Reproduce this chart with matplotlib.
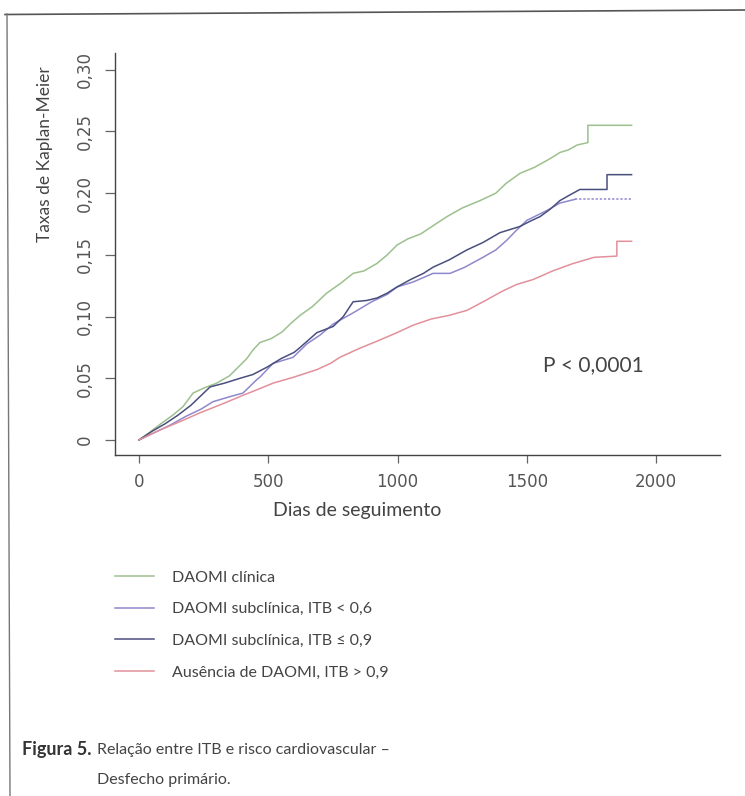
import matplotlib
matplotlib.use("Agg")
import matplotlib.pyplot as plt
from matplotlib.lines import Line2D

# Kaplan-Meier curves (days, cumulative rate)
clin_days = [0, 40, 90, 130, 170, 209, 250, 300, 350, 417, 441, 468, 510, 553, 590, 623, 670, 726, 780, 828,
             870, 920, 960, 998, 1040, 1090, 1140, 1191, 1250, 1319, 1380, 1420, 1473, 1530, 1590, 1628,
             1660, 1694, 1736, 1736, 1905]
clin_rate = [0, 0.006, 0.014, 0.020, 0.027, 0.038, 0.042, 0.046, 0.052, 0.066, 0.073, 0.079, 0.082, 0.0875,
             0.095, 0.101, 0.108, 0.119, 0.127, 0.135, 0.137, 0.143, 0.150, 0.158, 0.163, 0.167, 0.174,
             0.181, 0.188, 0.194, 0.200, 0.208, 0.216, 0.221, 0.228, 0.233, 0.235, 0.239, 0.241, 0.255, 0.255]

sub09_days = [0, 50, 100, 150, 200, 240, 275, 330, 391, 440, 495, 550, 600, 623, 688, 751, 790, 828, 880,
              920, 960, 998, 1050, 1100, 1137, 1200, 1268, 1330, 1396, 1473, 1510, 1551, 1590, 1628, 1670,
              1705, 1810, 1810, 1905]
sub09_rate = [0, 0.007, 0.013, 0.020, 0.028, 0.036, 0.043, 0.046, 0.050, 0.053, 0.059, 0.066, 0.071, 0.075,
              0.087, 0.092, 0.100, 0.112, 0.113, 0.115, 0.119, 0.124, 0.130, 0.135, 0.140, 0.146, 0.154,
              0.160, 0.168, 0.173, 0.177, 0.181, 0.187, 0.194, 0.199, 0.203, 0.203, 0.215, 0.215]

sub06_days = [0, 60, 120, 180, 240, 286, 350, 402, 456, 468, 518, 596, 650, 700, 751, 828, 900, 960, 998,
              1060, 1137, 1203, 1260, 1330, 1380, 1423, 1460, 1500, 1578, 1628, 1686, 1905]
sub06_rate = [0, 0.006, 0.012, 0.019, 0.025, 0.031, 0.035, 0.038, 0.049, 0.051, 0.062, 0.067, 0.078, 0.085,
              0.094, 0.103, 0.112, 0.118, 0.124, 0.128, 0.135, 0.135, 0.140, 0.148, 0.154, 0.162, 0.170,
              0.178, 0.186, 0.192, 0.195, 0.195]

norm_days = [0, 80, 160, 236, 320, 400, 460, 518, 600, 688, 740, 777, 850, 920, 998, 1060, 1130, 1200,
             1268, 1340, 1400, 1460, 1524, 1600, 1679, 1760, 1848, 1848, 1905]
norm_rate = [0, 0.008, 0.015, 0.022, 0.029, 0.036, 0.041, 0.046, 0.051, 0.057, 0.062, 0.067, 0.074, 0.080,
             0.087, 0.093, 0.098, 0.101, 0.105, 0.113, 0.120, 0.126, 0.130, 0.137, 0.143, 0.148, 0.149,
             0.161, 0.161]

labels = ["DAOMI clínica", "DAOMI subclínica, ITB < 0,6",
          "DAOMI subclínica, ITB ≤ 0,9", "Ausência de DAOMI, ITB > 0,9"]
cores = ["#9cc08e", "#8f88cc", "#4b4f7e", "#e2909a"]
xticks = [0, 500, 1000, 1500, 2000]
yticks = [0, 0.05, 0.10, 0.15, 0.20, 0.25, 0.30]
ytick_labels = ["0", "0,05", "0,10", "0,15", "0,20", "0,25", "0,30"]

fonte = ["Lato", "DejaVu Sans"]
cinza = "#555555"

fig = plt.figure(figsize=(7.45, 7.96), dpi=100)
ax = fig.add_axes([115/745, 1-455/796, 605/745, 402/796])

ax.plot(clin_days, clin_rate, color=cores[0], lw=1.1, label=labels[0])
# the <0.6 curve turns dotted once it goes flat
ax.plot(sub06_days[:-1], sub06_rate[:-1], color=cores[1], lw=1.1, label=labels[1])
ax.plot(sub06_days[-2:], sub06_rate[-2:], color=cores[1], lw=1.1, ls=(0, (1.5, 1.2)))
ax.plot(sub09_days, sub09_rate, color=cores[2], lw=1.1, label=labels[2])
ax.plot(norm_days, norm_rate, color=cores[3], lw=1.1, label=labels[3])

ax.set_xlim(-93, 2247)
ax.set_ylim(-0.0122, 0.3136)
ax.set_xticks(xticks)
ax.set_xticklabels([str(t) for t in xticks], fontsize=12, color=cinza)
ax.set_yticks(yticks)
ax.set_yticklabels(ytick_labels, fontsize=12, color=cinza, rotation=90, va="center")
ax.tick_params(axis="x", length=6, width=0.9, color="#666666", pad=7)
ax.tick_params(axis="y", length=7, width=0.9, color="#666666", pad=8)
for s in ["top", "right"]:
    ax.spines[s].set_visible(False)
for s in ["left", "bottom"]:
    ax.spines[s].set_color("#444444")
    ax.spines[s].set_linewidth(1.0)

ax.set_xlabel("Dias de seguimento", fontsize=14, color="#444444", family=fonte)
ax.xaxis.set_label_coords((357-115)/605, (455-502)/402)
fig.text(45/745, 1-154/796, "Taxas de Kaplan-Meier", rotation=90, ha="center", va="center",
         fontsize=12.5, color="#444444", family=fonte)

ax.text((593-115)/605, (455-365)/402, "P < 0,0001", transform=ax.transAxes, ha="center", va="center",
        fontsize=15, color="#444444", family=fonte)

leg = ax.legend(loc="upper left", bbox_to_anchor=(101/745, 1-556/796), bbox_transform=fig.transFigure,
                frameon=False, handlelength=2.4, handletextpad=1.15, labelspacing=1.1,
                prop={"family": fonte, "size": 11.5})
for t in leg.get_texts():
    t.set_color("#444444")

fig.text(22/745, 1-750/796, "Figura 5.", fontsize=13, fontweight="bold", color="#333333",
         family=fonte, va="center")
fig.text(97/745, 1-750/796, "Relação entre ITB e risco cardiovascular –", fontsize=11.5, color="#444444",
         family=fonte, va="center")
fig.text(97/745, 1-780/796, "Desfecho primário.", fontsize=11.5, color="#444444",
         family=fonte, va="center")

# page frame from the scan
fig.add_artist(Line2D([5/745, 1], [1-14.5/796, 1-10/796], color="#555555", lw=1.2))
fig.add_artist(Line2D([7/745, 10/745], [1-14/796, 0], color="#777777", lw=1.0))

fig.savefig("out.png", dpi=100)
